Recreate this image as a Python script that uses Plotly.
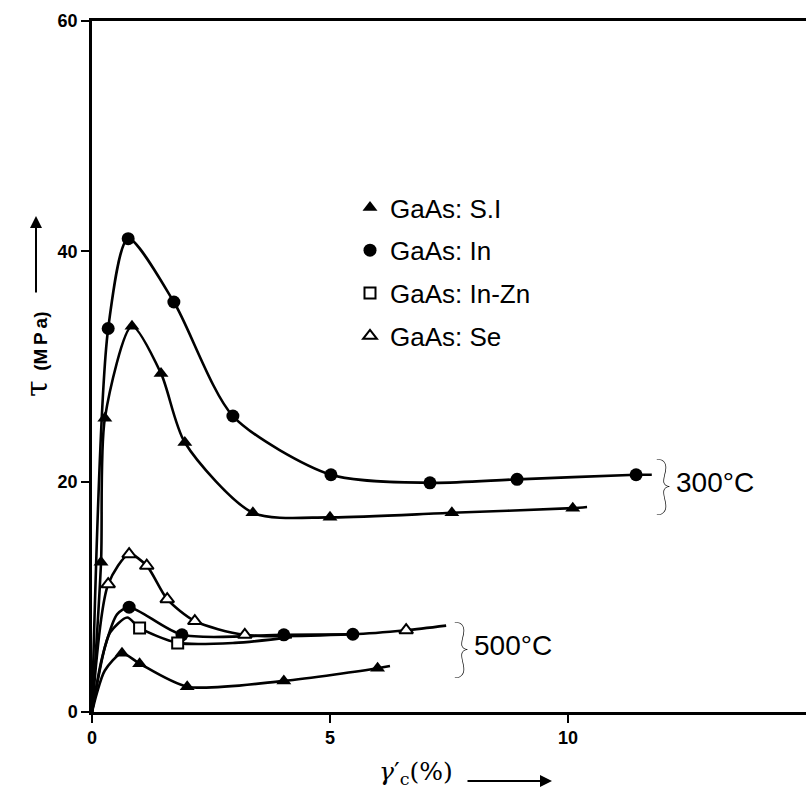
import plotly.graph_objects as go

# ---------------- data ----------------
# 300 °C, GaAs:S.I (filled triangles)
si300_x = [0.19, 0.27, 0.84, 1.45, 1.95, 3.38, 5.0, 7.56, 10.1]
si300_y = [13.0, 25.5, 33.5, 29.4, 23.4, 17.3, 16.9, 17.3, 17.7]
si300_curve_x = [0, 0.19, 0.27, 0.84, 1.45, 1.95, 3.38, 5.0, 7.56, 10.1, 10.4]
si300_curve_y = [0, 13.0, 25.5, 33.5, 29.4, 23.4, 17.3, 16.9, 17.3, 17.7, 17.8]

# 300 °C, GaAs:In (filled circles)
in300_x = [0.34, 0.76, 1.72, 2.96, 5.02, 7.1, 8.93, 11.43]
in300_y = [33.3, 41.1, 35.6, 25.7, 20.6, 19.9, 20.2, 20.6]
in300_curve_x = [0, 0.34, 0.76, 1.72, 2.96, 5.02, 7.1, 8.93, 11.43, 11.76]
in300_curve_y = [0, 33.3, 41.1, 35.6, 25.7, 20.6, 19.9, 20.2, 20.6, 20.6]

# 500 °C, GaAs:Se (open triangles)
se500_x = [0.34, 0.78, 1.15, 1.58, 2.16, 3.21, 6.6]
se500_y = [11.1, 13.7, 12.7, 9.8, 7.9, 6.7, 7.1]
se500_curve_x = [0, 0.34, 0.78, 1.15, 1.58, 2.16, 3.21, 5.48, 6.6, 7.44]
se500_curve_y = [0, 11.1, 13.7, 12.7, 9.8, 7.9, 6.7, 6.75, 7.1, 7.5]

# 500 °C, GaAs:In (filled circles)
in500_x = [0.78, 1.89, 4.03, 5.48]
in500_y = [9.1, 6.7, 6.7, 6.75]
in500_curve_x = [0, 0.27, 0.53, 0.78, 1.89, 4.03, 5.48]
in500_curve_y = [0, 5.6, 8.5, 9.1, 6.7, 6.7, 6.75]

# 500 °C, GaAs:In-Zn (open squares)
inzn500_x = [1.0, 1.8]
inzn500_y = [7.3, 6.0]
inzn500_curve_x = [0, 0.2, 0.38, 0.74, 1.0, 1.8, 3.0, 4.2]
inzn500_curve_y = [0, 4.5, 6.9, 8.2, 7.3, 6.0, 6.0, 6.5]

# 500 °C, GaAs:S.I (filled triangles)
si500_x = [0.63, 1.0, 2.0, 4.03, 6.0]
si500_y = [5.1, 4.2, 2.2, 2.7, 3.8]
si500_curve_x = [0, 0.1, 0.27, 0.63, 1.0, 2.0, 4.03, 6.0, 6.26]
si500_curve_y = [0, 1.6, 3.6, 5.1, 4.2, 2.2, 2.7, 3.8, 4.0]

x_ticks = [0, 5, 10]
y_ticks = [0, 20, 40, 60]

legend_names = ["GaAs: S.I", "GaAs: In", "GaAs: In-Zn", "GaAs: Se"]
temp_labels = ["300°C", "500°C"]

# ---------------- figure ----------------
fig = go.Figure()
LW = 2.6
line_style = dict(color="black", width=LW, shape="spline", smoothing=0.75)

curves = [
    (si300_curve_x, si300_curve_y),
    (in300_curve_x, in300_curve_y),
    (se500_curve_x, se500_curve_y),
    (in500_curve_x, in500_curve_y),
    (inzn500_curve_x, inzn500_curve_y),
    (si500_curve_x, si500_curve_y),
]
for cx, cy in curves:
    fig.add_trace(go.Scatter(x=cx, y=cy, mode="lines", line=line_style,
                             showlegend=False, hoverinfo="skip"))

m_tri = dict(symbol="triangle-up", size=13, color="black")
m_circ = dict(symbol="circle", size=13, color="black")
m_sq = dict(symbol="square", size=11, color="white", line=dict(color="black", width=2))
m_otri = dict(symbol="triangle-up", size=12, color="white", line=dict(color="black", width=2))

# markers (legend order: S.I, In, In-Zn, Se)
fig.add_trace(go.Scatter(x=si300_x, y=si300_y, mode="markers", marker=m_tri,
                         name=legend_names[0], legendgroup="a", legendrank=1))
fig.add_trace(go.Scatter(x=si500_x, y=si500_y, mode="markers", marker=m_tri,
                         name=legend_names[0], legendgroup="a", showlegend=False))
fig.add_trace(go.Scatter(x=in300_x, y=in300_y, mode="markers", marker=m_circ,
                         name=legend_names[1], legendgroup="b", legendrank=2))
fig.add_trace(go.Scatter(x=in500_x, y=in500_y, mode="markers", marker=m_circ,
                         name=legend_names[1], legendgroup="b", showlegend=False))
fig.add_trace(go.Scatter(x=inzn500_x, y=inzn500_y, mode="markers", marker=m_sq,
                         name=legend_names[2], legendgroup="c", legendrank=3))
fig.add_trace(go.Scatter(x=se500_x, y=se500_y, mode="markers", marker=m_otri,
                         name=legend_names[3], legendgroup="d", legendrank=4))

W, H = 806, 795
ML, MR, MT, MB = 92, 0, 21, 83
PW, PH = W - ML - MR, H - MT - MB


def px_to_paper(px, py):
    return (px - ML) / PW, (H - MB - py) / PH


annotations = []
# braces + temperature labels
for (bx, by), (tx, ty), lab in [((12.0, 19.9), (12.22, 19.9), temp_labels[0]),
                                ((7.77, 5.8), (7.99, 5.8), temp_labels[1])]:
    annotations.append(dict(x=bx, y=by, xref="x", yref="y", text="}", showarrow=False,
                            font=dict(family="Lato", size=64, color="black", weight=200),
                            xanchor="center", yanchor="middle"))
    annotations.append(dict(x=tx, y=ty, xref="x", yref="y", text=lab, showarrow=False,
                            font=dict(family="Liberation Sans", size=28, color="black"),
                            xanchor="left", yanchor="middle"))

# y axis label + arrow
lx, ly = px_to_paper(36, 355)
annotations.append(dict(x=lx, y=ly, xref="paper", yref="paper",
                        text="τ <b><span style='font-family:Liberation Sans;font-size:19px'>(M\u2009P\u2009a)</span></b>",
                        textangle=-90, showarrow=False,
                        font=dict(family="DejaVu Serif", size=30, color="black"),
                        xanchor="center", yanchor="middle"))
hx, hy = px_to_paper(36, 216)
annotations.append(dict(x=hx, y=hy, xref="paper", yref="paper", text="",
                        showarrow=True, arrowhead=2, arrowsize=1.2, arrowwidth=2,
                        arrowcolor="black", ax=0, ay=78, standoff=0))
# x axis label + arrow
lx, ly = px_to_paper(416, 773)
annotations.append(dict(x=lx, y=ly, xref="paper", yref="paper",
                        text="<i>γ</i>′<sub>c</sub>(%)", showarrow=False,
                        font=dict(family="DejaVu Serif", size=25, color="black"),
                        xanchor="center", yanchor="middle"))
hx, hy = px_to_paper(552, 781)
annotations.append(dict(x=hx, y=hy, xref="paper", yref="paper", text="",
                        showarrow=True, arrowhead=2, arrowsize=1.2, arrowwidth=2,
                        arrowcolor="black", ax=-86, ay=0, standoff=0))

lgx, lgy = px_to_paper(350, 184)
fig.update_layout(
    width=W, height=H,
    margin=dict(l=ML, r=MR, t=MT, b=MB, pad=0),
    paper_bgcolor="white", plot_bgcolor="white",
    showlegend=True,
    legend=dict(x=lgx, y=lgy, xanchor="left", yanchor="top",
                font=dict(family="Liberation Sans", size=26, color="black"),
                bgcolor="rgba(0,0,0,0)", tracegroupgap=6, itemwidth=30),
    annotations=annotations,
    xaxis=dict(range=[0, 15], tickvals=x_ticks, ticktext=[f"<b>{v}</b>" for v in x_ticks],
               showgrid=False, zeroline=False, showline=True, linecolor="black",
               linewidth=2.5, mirror=True, ticks="outside", ticklen=8, tickwidth=2,
               tickcolor="black",
               tickfont=dict(family="Liberation Sans", size=18, color="black")),
    yaxis=dict(range=[0, 60], tickvals=y_ticks, ticktext=[f"<b>{v}</b>" for v in y_ticks],
               showgrid=False, zeroline=False, showline=True, linecolor="black",
               linewidth=2.5, mirror=False, ticks="outside", ticklen=8, tickwidth=2,
               tickcolor="black",
               tickfont=dict(family="Liberation Sans", size=18, color="black")),
)

fig.write_html("out.html", config={"displayModeBar": False},
               post_script="document.body.style.margin='0';document.body.style.overflow='hidden';")
